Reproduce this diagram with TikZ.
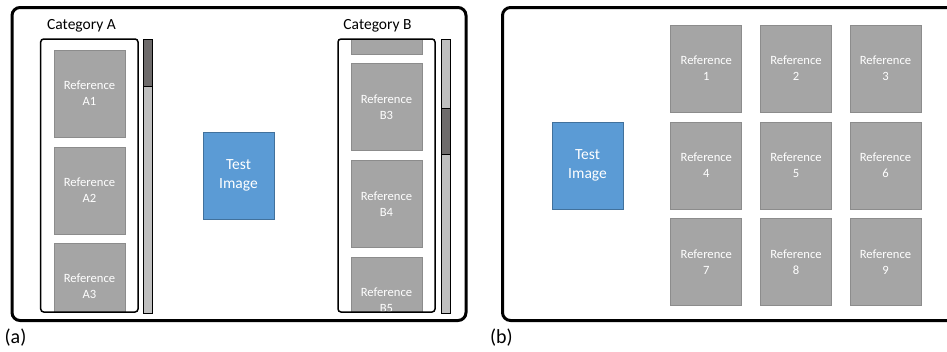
\documentclass[tikz,border=0pt]{standalone}
\usepackage{fontspec}
\setmainfont{Carlito}
\definecolor{refgray}{HTML}{A5A5A5}
\definecolor{refedge}{HTML}{8C8C8C}
\definecolor{testblue}{HTML}{5B9BD5}
\definecolor{testedge}{HTML}{41719C}
\definecolor{barfill}{HTML}{BFBFBF}
\definecolor{thumbfill}{HTML}{6E6B6B}
\begin{document}
\begin{tikzpicture}[x=1pt,y=-1pt,
  frame/.style={draw=black,line width=3pt,rounded corners=8pt},
  listbox/.style={draw=black,line width=1.5pt,rounded corners=3pt},
  bar/.style={draw=black,line width=1pt,fill=barfill},
  thumb/.style={draw=black,line width=1pt,fill=thumbfill},
  refbox/.style={draw=refedge,line width=0.8pt,fill=refgray,minimum width=71pt,minimum height=87pt,inner sep=0pt,text=white,align=center,font=\fontsize{12.6}{16}\selectfont},
  testbox/.style={draw=testedge,line width=0.8pt,fill=testblue,minimum width=71pt,minimum height=87pt,inner sep=0pt,text=white,align=center,font=\fontsize{15.5}{19.3}\selectfont},
  cat/.style={font=\fontsize{15.5}{18}\selectfont,inner sep=0pt},
  panel/.style={font=\fontsize{20}{22}\selectfont,inner sep=0pt}]
\clip (0,0) rectangle (947,351);
\fill[white] (0,0) rectangle (947,351);
% panel (a)
\draw[frame] (12,7.5) rectangle (466,320.5);
\node[cat] (catA) at (81.5,26) {Category A};
\node[cat] (catB) at (377.5,26) {Category B};
\begin{scope}
\clip (40.7,39) rectangle (138,311.5);
\node[refbox] (A1) at (89.5,93.5) {Reference\\A1};
\node[refbox] (A2) at (89.5,190.5) {Reference\\A2};
\node[refbox] (A3) at (89.5,286.5) {Reference\\A3};
\end{scope}
\draw[listbox] (40.7,39) rectangle (138,312);
\draw[bar] (143,39) rectangle (152,313);
\draw[thumb] (143,39) rectangle (152,86);
\node[testbox] (testA) at (238.5,175.5) {Test\\Image};
\begin{scope}
\clip (338,39) rectangle (435,311.5);
\node[refbox] (B2) at (386.5,10.5) {};
\node[refbox] (B3) at (386.5,107) {Reference\\B3};
\node[refbox] (B4) at (386.5,204) {Reference\\B4};
\node[refbox] (B5) at (386.5,300.5) {Reference\\B5};
\end{scope}
\draw[listbox] (338,39) rectangle (435,312);
\draw[bar] (441,39) rectangle (450,313);
\draw[thumb] (441,108) rectangle (450,154);
\node[panel] (labA) at (15.5,338) {(a)};
% panel (b)
\draw[frame] (502.5,7.5) rectangle (990,320.5);
\node[testbox] (testB) at (587.5,165.5) {Test\\Image};
\node[refbox] (R1) at (706.3,68.5) {Reference\\1};
\node[refbox] (R2) at (796,68.5) {Reference\\2};
\node[refbox] (R3) at (885.5,68.5) {Reference\\3};
\node[refbox] (R4) at (706.3,165.5) {Reference\\4};
\node[refbox] (R5) at (796,165.5) {Reference\\5};
\node[refbox] (R6) at (885.5,165.5) {Reference\\6};
\node[refbox] (R7) at (706.3,262) {Reference\\7};
\node[refbox] (R8) at (796,262) {Reference\\8};
\node[refbox] (R9) at (885.5,262) {Reference\\9};
\node[panel] (labB) at (501.5,338) {(b)};
\end{tikzpicture}
\end{document}
